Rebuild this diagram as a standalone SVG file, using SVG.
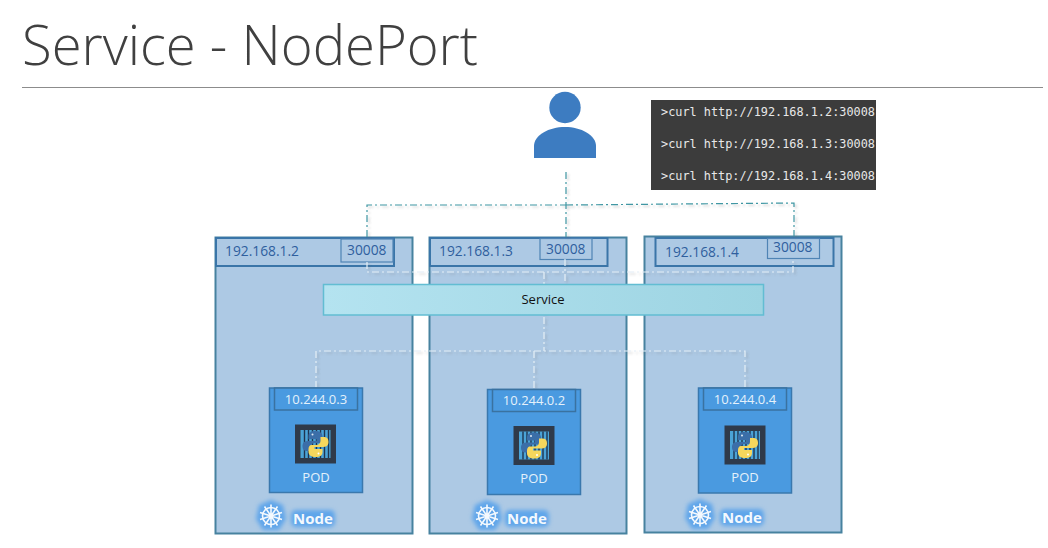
<svg xmlns="http://www.w3.org/2000/svg" width="1048" height="548" viewBox="0 0 1048 548">
<style>
.title{font-family:"Open Sans","Liberation Sans",sans-serif;font-weight:300;font-size:56px;fill:#404040}
.node{fill:#adc9e4;stroke:#47829f;stroke-width:2}
.hdr{fill:#adc9e4;stroke:#3a75a8;stroke-width:2}
.port{fill:#adc9e4;stroke:#4f84b5;stroke-width:1.2}
.blue{font-family:"Open Sans","Liberation Sans",sans-serif;font-size:13.8px;fill:#2f5f9e}
.pod{fill:#4a9ae0;stroke:#3a78ad;stroke-width:1.5}
.podh{fill:#4a9ae0;stroke:#3a72a0;stroke-width:1.5}
.ptxt{font-family:"Open Sans","Liberation Sans",sans-serif;font-size:13px;fill:#e4f1fb;text-anchor:middle}
.term{font-family:"DejaVu Sans Mono","Liberation Mono",monospace;font-size:11.85px;fill:#e8e8e8}
.teal{fill:none;stroke:#3f97a3;stroke-width:1.2;stroke-dasharray:7 3 2 3}
.white{fill:none;stroke:#e4eef6;stroke-width:1.2;stroke-dasharray:7 3 2 3}
.lbl{font-family:"Open Sans","Liberation Sans",sans-serif;font-weight:700;font-size:15px;fill:#f4f9fe}
.glow{fill:#5ea5ea}
.wheel{fill:none;stroke:#f4f9fe;stroke-width:1.6}
</style>
<defs>
<linearGradient id="svc" x1="0" x2="1" y1="0" y2="0"><stop offset="0" stop-color="#b4e3f0"/><stop offset="1" stop-color="#9dd4e2"/></linearGradient>
<filter id="shadow" x="-10%" y="-10%" width="120%" height="120%"><feDropShadow dx="2" dy="2" stdDeviation="1.2" flood-color="#666" flood-opacity="0.3"/></filter>
<filter id="soft" x="-40%" y="-40%" width="180%" height="180%"><feGaussianBlur stdDeviation="2"/></filter>
<g id="py">
<rect x="-20.500" y="-19.500" width="41" height="39" fill="#2f3a4a"/>
<rect x="-15" y="-14" width="30" height="28" fill="#4ba3d6"/>
<path d="M-11 -14V14M-7 -14V14M-3 -14V14M1 -14V14M5 -14V14M9 -14V14M13 -14V14" stroke="#1f3550" stroke-width="1.400"/>
<path d="M0 -13C-5 -13 -7 -11 -7 -8V-5H1V-3H-8C-12 -3 -13 0 -13 2C-13 6 -11 7 -8 7H-5V3C-5 1 -3 -1 -1 -1H4C6 -1 7 -3 7 -5V-8C7 -11 4 -13 0 -13Z" fill="#3b6ea8"/>
<path d="M0 13C5 13 7 11 7 8V5H-1V3H8C12 3 13 0 13 -2C13 -6 11 -7 8 -7H5V-3C5 -1 3 1 1 1H-4C-6 1 -7 3 -7 5V8C-7 11 -4 13 0 13Z" fill="#f6d75c"/>
<circle cx="-3" cy="-9.500" r="1" fill="#dfe9f2"/><circle cx="3" cy="9.500" r="1" fill="#fff"/>
</g>
<g id="helm">
<path class="glow" filter="url(#soft)" d="M0 -16 12 -11 15 3 8 14H-8L-15 3 -12 -11Z"/>
<circle class="wheel" r="8.500"/>
<circle r="2.200" fill="#f4f9fe"/>
<path class="wheel" d="M0 -11.500V11.500M-11 -3.500 11 3.500M-11 3.500 11 -3.500M-6.500 -9.500 6.500 9.500M6.500 -9.500 -6.500 9.500"/>
</g>
</defs>
<rect width="1048" height="548" fill="#fff"/>
<text class="title" x="22" y="65" textLength="456" lengthAdjust="spacingAndGlyphs">Service - NodePort</text>
<path d="M22 87.500H1043" stroke="#8c8c8c" stroke-width="1"/>

<g id="user"><circle cx="565" cy="107.500" r="15.700" fill="#3d7cc1"/><path d="M534 158V146C534 135 549 127 565 127S596 135 596 146V158Z" fill="#3d7cc1"/></g>

<g id="terminal"><rect x="651" y="100" width="225" height="90" fill="#3c3c3c"/>
<text class="term" x="661" y="116">&gt;curl http://192.168.1.2:30008</text>
<text class="term" x="661" y="148">&gt;curl http://192.168.1.3:30008</text>
<text class="term" x="661" y="180">&gt;curl http://192.168.1.4:30008</text></g>

<g id="node1"><rect class="node" x="215.500" y="237.500" width="197" height="296"/><rect class="hdr" x="216" y="238" width="178" height="28"/><rect class="port" x="341" y="239" width="52" height="23"/>
<text class="blue" x="225" y="256">192.168.1.2</text><text class="blue" x="347" y="255">30008</text></g>
<g id="node2"><rect class="node" x="429.500" y="237.500" width="197" height="296"/><rect class="hdr" x="430" y="238" width="177.500" height="28"/><rect class="port" x="540" y="238.500" width="52" height="21"/>
<text class="blue" x="439" y="256">192.168.1.3</text><text class="blue" x="546" y="254">30008</text></g>
<g id="node3"><rect class="node" x="644.500" y="236.500" width="197" height="296"/><rect class="hdr" x="655.500" y="238" width="178" height="28"/><rect class="port" x="767.500" y="238.500" width="52" height="20"/>
<text class="blue" x="665" y="257">192.168.1.4</text><text class="blue" x="773" y="252">30008</text></g>

<g id="connectors">
<g filter="url(#shadow)">
<path class="teal" d="M566 172V237M367 237V205H566M566 205 794 203V236"/>
</g>
<g filter="url(#shadow)">
<path class="white" d="M367 262V272H793V258M565 259V284M544 272V351M316 388V351H745V388M534 351V389"/>
</g>
</g>

<g id="service"><rect x="323.500" y="284.500" width="440" height="30.500" fill="url(#svc)" stroke="#62bdd2" stroke-width="1.500"/>
<text x="543" y="304" font-family="'Open Sans','Liberation Sans',sans-serif" font-size="13" fill="#111" text-anchor="middle">Service</text></g>

<g id="pod1"><rect class="pod" x="269.500" y="388" width="93" height="104.500"/><rect class="podh" x="274.500" y="388" width="83" height="22"/>
<text class="ptxt" x="316" y="404">10.244.0.3</text><use href="#py" x="315.500" y="444"/><text class="ptxt" x="316" y="482">POD</text></g>
<g id="pod2"><rect class="pod" x="487.500" y="389.500" width="93" height="105"/><rect class="podh" x="492.500" y="389.500" width="83" height="22"/>
<text class="ptxt" x="534" y="405">10.244.0.2</text><use href="#py" x="534" y="445.500"/><text class="ptxt" x="534" y="483">POD</text></g>
<g id="pod3"><rect class="pod" x="698.500" y="388" width="93" height="105"/><rect class="podh" x="703.500" y="388" width="83" height="22"/>
<text class="ptxt" x="745" y="404">10.244.0.4</text><use href="#py" x="745" y="445"/><text class="ptxt" x="745" y="482">POD</text></g>

<g id="label1"><use href="#helm" x="271" y="516"/><rect class="glow" x="291" y="510" width="44" height="17" rx="5" filter="url(#soft)"/><text class="lbl" x="293" y="524">Node</text></g>
<g id="label2"><use href="#helm" x="487" y="516"/><rect class="glow" x="505" y="510" width="44" height="17" rx="5" filter="url(#soft)"/><text class="lbl" x="507" y="524">Node</text></g>
<g id="label3"><use href="#helm" x="700" y="515"/><rect class="glow" x="720" y="509" width="44" height="17" rx="5" filter="url(#soft)"/><text class="lbl" x="722" y="523">Node</text></g>
</svg>
